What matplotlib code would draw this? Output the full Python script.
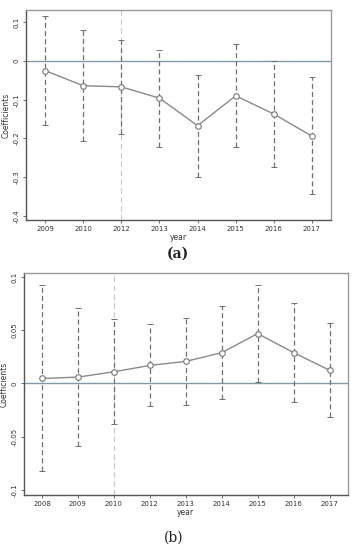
import matplotlib
matplotlib.use("Agg")
import matplotlib.pyplot as plt
import numpy as np

# Panel (a)
years_a = ["2009", "2010", "2012", "2013", "2014", "2015", "2016", "2017"]
coef_a = [-0.025, -0.064, -0.067, -0.096, -0.167, -0.090, -0.137, -0.194]
upper_a = [0.115, 0.079, 0.055, 0.029, -0.036, 0.044, 0.000, -0.042]
lower_a = [-0.165, -0.207, -0.188, -0.221, -0.299, -0.221, -0.274, -0.342]
yticks_a = [0.1, 0, -0.1, -0.2, -0.3, -0.4]
ytick_labels_a = ["0.1", "0", "-0.1", "-0.2", "-0.3", "-0.4"]
ref_year_a = "2012"

# Panel (b)
years_b = ["2008", "2009", "2010", "2012", "2013", "2014", "2015", "2016", "2017"]
coef_b = [0.0047, 0.006, 0.011, 0.017, 0.0208, 0.029, 0.047, 0.029, 0.0125]
upper_b = [0.0925, 0.0713, 0.0607, 0.0557, 0.0613, 0.0732, 0.0925, 0.0758, 0.0566]
lower_b = [-0.0827, -0.059, -0.0384, -0.0208, -0.0198, -0.0142, 0.0012, -0.0173, -0.0315]
yticks_b = [0.1, 0.05, 0, -0.05, -0.1]
ytick_labels_b = ["0.1", "0.05", "0", "-0.05", "-0.1"]
ref_year_b = "2010"

fig = plt.figure(figsize=(3.55, 5.5), dpi=100)
fig.patch.set_facecolor("white")

ax_a = fig.add_axes([0.0732, 0.6, 0.8592, 0.3818])
ax_b = fig.add_axes([0.0676, 0.1, 0.9114, 0.4036])


def draw(ax, years, coef, upper, lower, yticks, ylabels, ref, ylim):
    x = np.arange(len(years))
    coef = np.array(coef)
    yerr = np.vstack([coef - np.array(lower), np.array(upper) - coef])
    ax.axhline(0, color="#7f9aa8", lw=1.0, zorder=1)
    ax.axvline(years.index(ref), color="#c8c8c8", lw=0.8, ls=(0, (5, 3)), zorder=1)
    eb = ax.errorbar(x, coef, yerr=yerr, fmt="none", ecolor="#707070",
                     elinewidth=0.9, capsize=2.0, capthick=0.7, zorder=2)
    for lc in eb[2]:
        lc.set_linestyle((0, (4, 2.5)))
    ax.plot(x, coef, color="#8a8a8a", lw=1.0, marker="o", ms=4,
            mfc="white", mec="#777777", mew=0.8, zorder=3)
    ax.set_xlim(-0.5, len(years) - 0.5)
    ax.set_ylim(*ylim)
    ax.set_xticks(x)
    ax.set_xticklabels(years, fontsize=5, color="#333333")
    ax.set_yticks(yticks)
    ax.set_yticklabels(ylabels, fontsize=5, rotation=90, va="center", color="#333333")
    ax.tick_params(axis="both", length=2.5, width=0.6, color="#555555", pad=2)
    ax.set_xlabel("year", fontsize=5.5, color="#333333", labelpad=0.5)
    ax.set_ylabel("Coefficients", fontsize=5.5, color="#333333", labelpad=2)
    for s in ax.spines.values():
        s.set_color("#9a9a9a")
        s.set_linewidth(1.0)
    ax.spines["bottom"].set_color("#555555")
    ax.spines["left"].set_color("#555555")


draw(ax_a, years_a, coef_a, upper_a, lower_a, yticks_a, ytick_labels_a, ref_year_a, (-0.41, 0.131))
draw(ax_b, years_b, coef_b, upper_b, lower_b, yticks_b, ytick_labels_b, ref_year_b, (-0.105, 0.104))

fig.text(0.5, 1 - 254 / 550, "(a)", ha="center", va="center", fontsize=10,
         fontweight="bold", family="DejaVu Serif", color="#222222")
fig.text(0.49, 1 - 538 / 550, "(b)", ha="center", va="center", fontsize=10,
         family="DejaVu Serif", color="#222222")

fig.savefig("out.png", dpi=100, facecolor="white")
